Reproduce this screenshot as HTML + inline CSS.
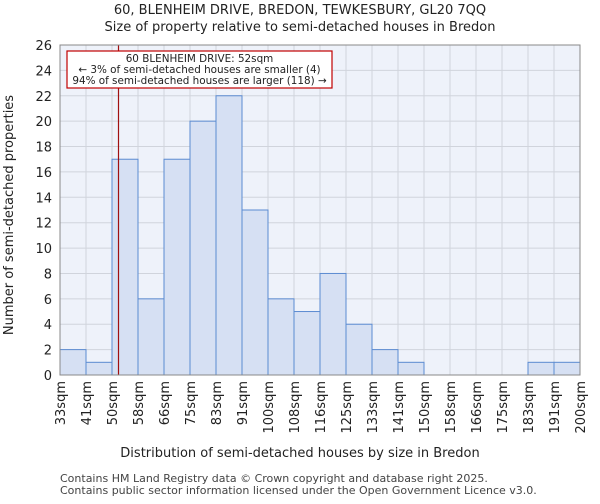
<!DOCTYPE html>
<html><head><meta charset="utf-8"><style>
body{margin:0;background:#fff;font-family:"DejaVu Sans","Liberation Sans",sans-serif}
svg text{font-family:"DejaVu Sans","Liberation Sans",sans-serif}
</style></head><body>
<svg id="c" width="600" height="500" xmlns="http://www.w3.org/2000/svg">
<text x="300" y="14" font-size="13" text-anchor="middle" fill="#222">60, BLENHEIM DRIVE, BREDON, TEWKESBURY, GL20 7QQ</text>
<text x="300" y="31" font-size="13" text-anchor="middle" fill="#222">Size of property relative to semi-detached houses in Bredon</text>
<rect x="60" y="45" width="520" height="330" fill="#eef2fa"/>
<g id="grid"></g><g id="bars"></g><g id="axes"></g>
<text x="300" y="457" font-size="13" text-anchor="middle" fill="#222">Distribution of semi-detached houses by size in Bredon</text>
<text transform="translate(13,215) rotate(-90)" font-size="13" text-anchor="middle" fill="#222">Number of semi-detached properties</text>
<text x="60" y="482" font-size="11" fill="#444">Contains HM Land Registry data © Crown copyright and database right 2025.</text>
<text x="60" y="494" font-size="11" fill="#444">Contains public sector information licensed under the Open Government Licence v3.0.</text>
</svg>
<script>
const labels=["33sqm","41sqm","50sqm","58sqm","66sqm","75sqm","83sqm","91sqm","100sqm","108sqm","116sqm","125sqm","133sqm","141sqm","150sqm","158sqm","166sqm","175sqm","183sqm","191sqm","200sqm"];
const counts=[2,1,17,6,17,20,22,13,6,5,8,4,2,1,0,0,0,0,1,1];
const yTicks=[0,2,4,6,8,10,12,14,16,18,20,22,24,26];
const marker=52;
const NS="http://www.w3.org/2000/svg";
const x0=60,x1=580,y0=375,y1=45,ymax=26;
const bw=(x1-x0)/counts.length;
const X=i=>x0+i*bw, Y=v=>y0-(v/ymax)*(y0-y1);
function mk(p,t,a){const e=document.createElementNS(NS,t);for(const k in a)e.setAttribute(k,a[k]);p.appendChild(e);return e;}
const g=document.getElementById('grid'),b=document.getElementById('bars'),ax=document.getElementById('axes');
yTicks.forEach(v=>{
 const l=mk(g,'line',{x1:x0,x2:x1,y1:Y(v),y2:Y(v),stroke:'#d0d4dc','stroke-width':1});
 
 
 const t=mk(ax,'text',{x:x0-8,y:Y(v)+5,'font-size':13,'text-anchor':'end',fill:'#222'});t.textContent=v;
 
 
});
labels.forEach((s,i)=>{
 const l=mk(g,'line',{x1:X(i),x2:X(i),y1:y1,y2:y0,stroke:'#d0d4dc','stroke-width':1});
 
 
 const t=mk(ax,'text',{transform:`translate(${X(i)+5},${y0+6}) rotate(-90)`,'font-size':13,'text-anchor':'end',fill:'#222'});t.textContent=s;
 
 
});
counts.forEach((v,i)=>{
 if(v<=0)return;
 const r=mk(b,'rect',{x:X(i),y:Y(v),width:bw,height:y0-Y(v),fill:'#d6e0f3',stroke:'#5b8bd1','stroke-width':1});
 
 
});
const edges=labels.map(s=>parseFloat(s));
let mi=0;while(mi<edges.length-2&&marker>=edges[mi+1])mi++;
const mx=X(mi)+bw*(marker-edges[mi])/(edges[mi+1]-edges[mi]);
const ml=mk(ax,'line',{x1:mx,x2:mx,y1:y1,y2:y0,stroke:'#a01010','stroke-width':1.2});


const box=mk(ax,'rect',{x:67,y:51,width:265,height:37,fill:'#fff',stroke:'#c00000','stroke-width':1.2});


["60 BLENHEIM DRIVE: 52sqm","← 3% of semi-detached houses are smaller (4)","94% of semi-detached houses are larger (118) →"].forEach((s,i)=>{
 const t=mk(ax,'text',{x:199.5,y:62+i*11,'font-size':10.4,'text-anchor':'middle',fill:'#222'});t.textContent=s;
 
 
});
const fr=mk(ax,'rect',{x:x0,y:y1,width:x1-x0,height:y0-y1,fill:'none',stroke:'#888','stroke-width':1});


</script>
</body></html>
